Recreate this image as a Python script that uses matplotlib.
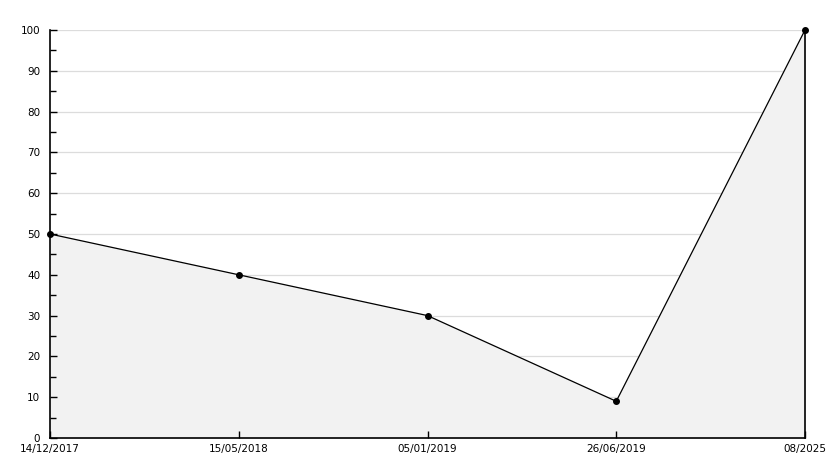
import matplotlib.pyplot as plt
from matplotlib.ticker import MultipleLocator

# Data
dates = ['14/12/2017', '15/05/2018', '05/01/2019', '26/06/2019', '08/2025']
values = [50, 40, 30, 9, 100]
x = list(range(len(dates)))

fig = plt.figure(figsize=(8.34, 4.68), dpi=100)
ax = fig.add_axes([50 / 834, 30 / 468, 755 / 834, 408 / 468])

ax.set_xlim(0, len(dates) - 1)
ax.set_ylim(0, 100)
ax.set_xticks(x)
ax.set_xticklabels(dates)
ax.yaxis.set_major_locator(MultipleLocator(10))
ax.yaxis.set_minor_locator(MultipleLocator(5))

# Horizontal grid lines, kept below the filled area
for yv in ax.get_yticks():
    if 0 < yv <= 100:
        ax.axhline(yv, color='#dcdcdc', linewidth=0.9, zorder=0)

# Filled area under the line
ax.fill_between(x, values, 0, color='#f2f2f2', zorder=1)
ax.plot([x[-1], x[-1]], [0, values[-1]], color='black', linewidth=1.2,
        zorder=2, clip_on=False)
ax.plot(x, values, color='black', linewidth=0.9, marker='o', markersize=4,
        zorder=3, clip_on=False)

ax.set_axisbelow(False)

for side in ['top', 'right']:
    ax.spines[side].set_visible(False)
for side in ['left', 'bottom']:
    ax.spines[side].set_linewidth(1.2)

ax.tick_params(axis='both', which='both', direction='in', labelsize=7.5,
               colors='black')
ax.tick_params(axis='y', which='major', length=5, width=1, pad=7)
ax.tick_params(axis='y', which='minor', length=4, width=1)
ax.tick_params(axis='x', which='major', length=5, width=1, pad=4)

plt.savefig('out.png', dpi=100)
plt.close()
